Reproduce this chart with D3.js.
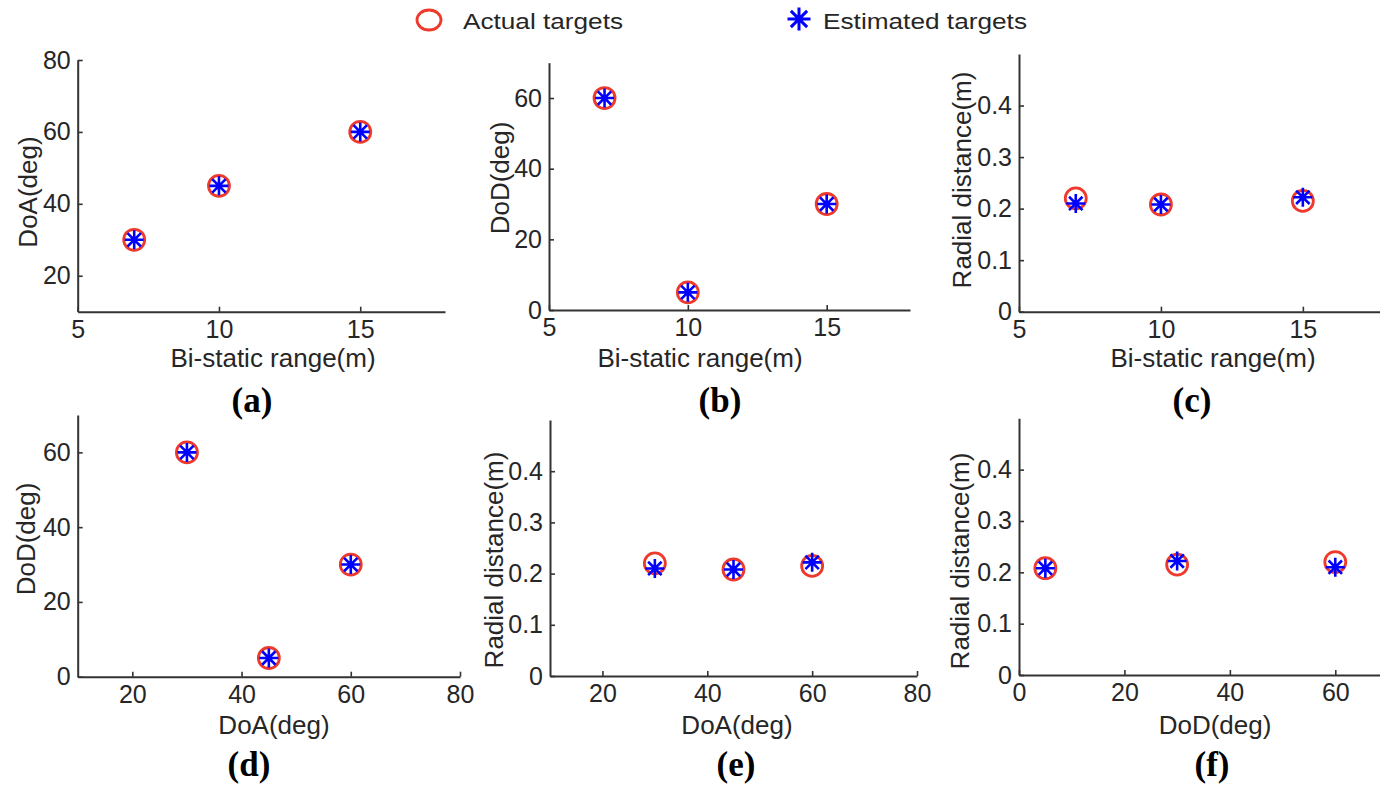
<!DOCTYPE html>
<html>
<head>
<meta charset="utf-8">
<script src="https://cdn.jsdelivr.net/npm/d3@7"></script>
<style>
  body { margin: 0; background: #fff; }
  svg text { font-family: "Liberation Sans", Arial, sans-serif; fill: #262626; }
</style>
</head>
<body>
<svg id="chart" width="1380" height="789"></svg>
<script>
// three targets, actual vs estimated
const bistaticRange = [7, 10, 15];
const doaDeg = [30, 45, 60];
const dodDeg = [60, 5, 30];
const radialActual = [0.22, 0.208, 0.215];
const radialEstimated = [0.21, 0.208, 0.222];

const rangeTicks = [5, 10, 15];
const angleTicks = [20, 40, 60, 80];
const dodTicksX = [0, 20, 40, 60];
const degTicks = [0, 20, 40, 60];
const doaTicksY = [20, 40, 60, 80];
const radialTicks = [0, 0.1, 0.2, 0.3, 0.4];

const legendLabels = ["Actual targets", "Estimated targets"];

const RED = "#ee3a2c", BLUE = "#0000ff", AXIS = "#333";

const panels = [
  {lab:"(a)", xr:[77.7,445], xd:[5,18], xt:rangeTicks, yr:[311.7,60], yd:[10,80], yt:doaTicksY,
   xv:bistaticRange, ya:doaDeg, ye:doaDeg, xTitle:"Bi-static range(m)", yTitle:"DoA(deg)",
   xtPos:[273,367], ytPos:[28,192], labPos:[252,412]},
  {lab:"(b)", xr:[549,910], xd:[5,18], xt:rangeTicks, yr:[310,62.7], yd:[0,70], yt:degTicks,
   xv:bistaticRange, ya:dodDeg, ye:dodDeg, xTitle:"Bi-static range(m)", yTitle:"DoD(deg)",
   xtPos:[700,367], ytPos:[500,178], labPos:[720,412]},
  {lab:"(c)", xr:[1019,1388], xd:[5,18], xt:rangeTicks, yr:[311.7,54], yd:[0,0.5], yt:radialTicks,
   xv:bistaticRange, ya:radialActual, ye:radialEstimated, xTitle:"Bi-static range(m)", yTitle:"Radial distance(m)",
   xtPos:[1213,367], ytPos:[962,180], labPos:[1192,412]},
  {lab:"(d)", xr:[77.7,460], xd:[10,80], xt:angleTicks, yr:[676.7,415], yd:[0,70], yt:degTicks,
   xv:doaDeg, ya:dodDeg, ye:dodDeg, xTitle:"DoA(deg)", yTitle:"DoD(deg)",
   xtPos:[274,734], ytPos:[26,539], labPos:[249,776]},
  {lab:"(e)", xr:[550,917], xd:[10,80], xt:angleTicks, yr:[676,420], yd:[0,0.5], yt:radialTicks,
   xv:doaDeg, ya:radialActual, ye:radialEstimated, xTitle:"DoA(deg)", yTitle:"Radial distance(m)",
   xtPos:[737,734], ytPos:[494,560], labPos:[736,776]},
  {lab:"(f)", xr:[1019,1388], xd:[0,70], xt:dodTicksX, yr:[675,418.3], yd:[0,0.5], yt:radialTicks,
   xv:dodDeg, ya:radialActual, ye:radialEstimated, xTitle:"DoD(deg)", yTitle:"Radial distance(m)",
   xtPos:[1215,734], ytPos:[960,561], labPos:[1212,776]}
];

const svg = d3.select("#chart");

function asterisk(s){
  const d = s*0.7071;
  return `M${-s},0L${s},0M0,${-s}L0,${s}M${-d},${-d}L${d},${d}M${-d},${d}L${d},${-d}`;
}

function drawPanel(p){
  const x = d3.scaleLinear().domain(p.xd).range(p.xr);
  const y = d3.scaleLinear().domain(p.yd).range(p.yr);
  const g = svg.append("g");

  const xAxis = g.append("g")
    .attr("transform", `translate(0,${p.yr[0]})`)
    .call(d3.axisBottom(x).tickValues(p.xt).tickSizeInner(-5).tickSizeOuter(0).tickPadding(8.5)
      .tickFormat(d3.format("~g")));
  const yAxis = g.append("g")
    .attr("transform", `translate(${p.xr[0]},0)`)
    .call(d3.axisLeft(y).tickValues(p.yt).tickSizeInner(-5).tickSizeOuter(0).tickPadding(7)
      .tickFormat(d3.format("~g")));

  [xAxis, yAxis].forEach(a => {
    a.select(".domain").attr("stroke", AXIS).attr("stroke-width", 2);
    a.selectAll(".tick line").attr("stroke", AXIS).attr("stroke-width", 1.6);
    a.selectAll(".tick text").style("font-size", "25px").style("fill", "#262626");
  });

  g.append("text")
    .attr("x", p.xtPos[0]).attr("y", p.xtPos[1])
    .attr("text-anchor", "middle")
    .style("font-size", "26px")
    .text(p.xTitle);

  g.append("text")
    .attr("transform", `translate(${p.ytPos[0]},${p.ytPos[1]}) rotate(-90)`)
    .attr("text-anchor", "middle")
    .attr("dy", "0.35em")
    .style("font-size", "26px")
    .text(p.yTitle);

  g.append("text")
    .attr("x", p.labPos[0]).attr("y", p.labPos[1])
    .attr("text-anchor", "middle")
    .style("font-family", "'Liberation Serif', 'Times New Roman', serif")
    .style("font-weight", "bold")
    .style("font-size", "35px")
    .style("fill", "#000")
    .text(p.lab);

  const idx = d3.range(p.xv.length);
  g.selectAll("circle.actual").data(idx).join("circle")
    .attr("class", "actual")
    .attr("cx", i => x(p.xv[i]))
    .attr("cy", i => y(p.ya[i]))
    .attr("r", 10.5)
    .attr("fill", "none")
    .attr("stroke", RED)
    .attr("stroke-width", 2.8);

  g.selectAll("path.est").data(idx).join("path")
    .attr("class", "est")
    .attr("transform", i => `translate(${x(p.xv[i])},${y(p.ye[i])})`)
    .attr("d", asterisk(9.5))
    .attr("fill", "none")
    .attr("stroke", BLUE)
    .attr("stroke-width", 2.6);
}

panels.forEach(drawPanel);

// legend
const leg = svg.append("g");
leg.append("ellipse")
  .attr("cx", 429).attr("cy", 20).attr("rx", 12).attr("ry", 10)
  .attr("fill", "none").attr("stroke", RED).attr("stroke-width", 2.8);
leg.append("text")
  .attr("x", 463).attr("y", 28.5)
  .attr("textLength", 160).attr("lengthAdjust", "spacingAndGlyphs")
  .style("font-size", "22px")
  .text(legendLabels[0]);
leg.append("path")
  .attr("transform", "translate(799,19)")
  .attr("d", asterisk(11.5))
  .attr("fill", "none").attr("stroke", BLUE).attr("stroke-width", 3);
leg.append("text")
  .attr("x", 823).attr("y", 28.5)
  .attr("textLength", 204).attr("lengthAdjust", "spacingAndGlyphs")
  .style("font-size", "22px")
  .text(legendLabels[1]);
</script>
</body>
</html>
